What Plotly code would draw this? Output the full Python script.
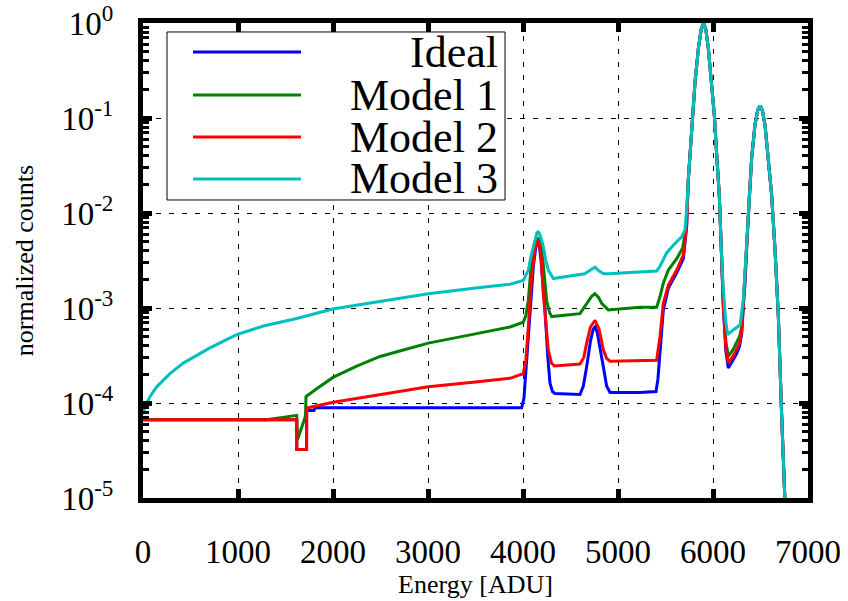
import plotly.graph_objects as go

series_names = ["Ideal", "Model 1", "Model 2", "Model 3"]
series_colors = ["#0000ff", "#008000", "#ff0000", "#00bfbf"]

# shared main peak (all curves coincide)
main_peak_x = [5740, 5758, 5786, 5811, 5846, 5875, 5900, 5925, 5951, 5986, 6014, 6039, 6066, 6090]
main_peak_y = [0.0224, 0.0407, 0.107, 0.240, 0.537, 0.851, 1.0, 0.851, 0.537, 0.240, 0.107, 0.0407, 0.0155, 0.00355]
# shared second peak
second_peak_x = [6360, 6382, 6407, 6442, 6470, 6495, 6520, 6547, 6582, 6617, 6653, 6688, 6723, 6751, 6760]
second_peak_y = [0.00562, 0.0155, 0.0380, 0.0851, 0.120, 0.135, 0.120, 0.0851, 0.0380, 0.0155, 0.00407, 8.13e-4, 7.24e-5, 1.07e-5, 7.9e-6]

ideal_x = [0, 1618, 1619, 1722, 1723, 1800, 1810, 3986, 4010, 4039, 4074, 4110, 4135, 4148, 4160, 4172, 4190, 4232,
           4260, 4284, 4310, 4337, 4600, 4635, 4670, 4710, 4740, 4758, 4780, 4810, 4846, 4880, 4916, 5231, 5400,
           5420, 5442, 5477, 5530, 5618, 5688, 5723]
ideal_y = [6.68e-5, 6.68e-5, 3.24e-5, 3.24e-5, 8.32e-5, 8.32e-5, 8.91e-5, 8.91e-5, 1.12e-4, 2.82e-4, 9.55e-4,
           2.82e-3, 4.37e-3, 4.70e-3, 4.79e-3, 4.50e-3, 3.16e-3, 9.55e-4, 3.16e-4, 1.62e-4, 1.32e-4, 1.26e-4,
           1.23e-4, 1.51e-4, 2.40e-4, 4.47e-4, 6.03e-4, 6.31e-4, 5.62e-4, 3.98e-4, 2.40e-4, 1.51e-4, 1.29e-4,
           1.29e-4, 1.32e-4, 1.78e-4, 3.63e-4, 9.55e-4, 1.62e-3, 2.34e-3, 3.31e-3, 7.24e-3]
ideal_valley_x = [6109, 6135, 6161, 6210, 6249, 6280, 6302, 6320, 6337]
ideal_valley_y = [1.0e-3, 3.55e-4, 2.34e-4, 2.82e-4, 3.31e-4, 3.98e-4, 5.37e-4, 1.05e-3, 1.82e-3]

model1_x = [0, 1300, 1618, 1625, 1710, 1716, 1828, 2000, 2250, 2495, 2750, 3003, 3512, 3863, 4003, 4030, 4056,
            4091, 4125, 4145, 4158, 4172, 4190, 4214, 4249, 4280, 4302, 4600, 4688, 4720, 4758, 4795, 4828, 4898,
            5231, 5407, 5442, 5477, 5530, 5618, 5681, 5716]
model1_y = [6.68e-5, 6.68e-5, 7.41e-5, 4.07e-5, 7.24e-5, 1.17e-4, 1.41e-4, 1.86e-4, 2.45e-4, 3.09e-4, 3.63e-4,
            4.27e-4, 5.37e-4, 6.31e-4, 7.08e-4, 8.32e-4, 1.20e-3, 3.24e-3, 5.01e-3, 5.30e-3, 5.37e-3, 5.20e-3,
            4.68e-3, 2.82e-3, 1.20e-3, 8.91e-4, 8.13e-4, 8.71e-4, 1.17e-3, 1.32e-3, 1.41e-3, 1.29e-3, 1.12e-3,
            9.55e-4, 1.02e-3, 1.02e-3, 1.32e-3, 1.82e-3, 2.51e-3, 3.31e-3, 4.27e-3, 7.24e-3]
model1_valley_x = [6109, 6135, 6161, 6210, 6249, 6280, 6302, 6320, 6340]
model1_valley_y = [1.12e-3, 4.47e-4, 3.09e-4, 3.63e-4, 4.27e-4, 5.01e-4, 6.31e-4, 1.12e-3, 2.51e-3]

model2_x = [0, 1618, 1619, 1722, 1723, 1740, 2003, 2500, 3003, 3500, 3863, 4003, 4030, 4056, 4091, 4125, 4145,
            4158, 4172, 4190, 4214, 4240, 4266, 4300, 4330, 4600, 4640, 4670, 4710, 4758, 4800, 4846, 4880, 4916,
            5231, 5407, 5442, 5477, 5530, 5618, 5688, 5723]
model2_y = [6.68e-5, 6.68e-5, 3.24e-5, 3.24e-5, 8.71e-5, 8.91e-5, 1.02e-4, 1.23e-4, 1.48e-4, 1.66e-4, 1.82e-4,
            2.04e-4, 2.82e-4, 6.31e-4, 2.14e-3, 4.17e-3, 4.90e-3, 5.01e-3, 4.60e-3, 3.55e-3, 1.41e-3, 7.08e-4,
            3.63e-4, 2.63e-4, 2.45e-4, 2.57e-4, 3.02e-4, 4.27e-4, 6.31e-4, 7.41e-4, 6.03e-4, 3.63e-4, 2.95e-4,
            2.75e-4, 2.82e-4, 2.82e-4, 5.01e-4, 1.12e-3, 1.74e-3, 2.51e-3, 3.63e-3, 7.76e-3]
model2_valley_x = [6109, 6135, 6161, 6210, 6249, 6280, 6302, 6320, 6340]
model2_valley_y = [1.05e-3, 3.98e-4, 2.63e-4, 3.09e-4, 3.63e-4, 4.27e-4, 5.62e-4, 1.07e-3, 2.40e-3]

model3_x = [0, 21, 74, 144, 284, 424, 705, 986, 1267, 1618, 1997, 2500, 3003, 3500, 3863, 4003, 4056, 4085, 4109,
            4135, 4147, 4158, 4170, 4185, 4214, 4240, 4266, 4319, 4600, 4650, 4710, 4758, 4800, 4850, 4898, 5231,
            5407, 5442, 5512, 5582, 5670, 5705, 5723]
model3_y = [7.59e-5, 9.12e-5, 1.17e-4, 1.48e-4, 2.04e-4, 2.63e-4, 3.80e-4, 5.25e-4, 6.46e-4, 7.76e-4, 9.77e-4,
            1.17e-3, 1.41e-3, 1.62e-3, 1.78e-3, 1.95e-3, 2.51e-3, 3.55e-3, 4.47e-3, 5.75e-3, 6.17e-3, 6.31e-3,
            6.17e-3, 5.62e-3, 4.47e-3, 3.16e-3, 2.51e-3, 2.04e-3, 2.24e-3, 2.29e-3, 2.51e-3, 2.69e-3, 2.45e-3,
            2.29e-3, 2.29e-3, 2.40e-3, 2.45e-3, 2.75e-3, 3.80e-3, 4.57e-3, 5.62e-3, 6.61e-3, 1.07e-2]
model3_valley_x = [6109, 6135, 6155, 6214, 6284, 6319, 6340]
model3_valley_y = [1.55e-3, 7.08e-4, 5.25e-4, 5.89e-4, 6.61e-4, 1.20e-3, 2.82e-3]

x_ticks = [0, 1000, 2000, 3000, 4000, 5000, 6000, 7000]
y_ticks = [1e-5, 1e-4, 1e-3, 1e-2, 1e-1, 1e0]
y_tick_text = ["10<sup>-5</sup>", "10<sup>-4</sup>", "10<sup>-3</sup>", "10<sup>-2</sup>", "10<sup>-1</sup>", "10<sup>0</sup>"]
y_minor = [m * 10.0 ** e for e in range(-5, 0) for m in range(2, 10)]

series = [
    (ideal_x, ideal_y, ideal_valley_x, ideal_valley_y),
    (model1_x, model1_y, model1_valley_x, model1_valley_y),
    (model2_x, model2_y, model2_valley_x, model2_valley_y),
    (model3_x, model3_y, model3_valley_x, model3_valley_y),
]

FONT = "Liberation Serif"
fig = go.Figure()
for name, color, (sx, sy, vx, vy) in zip(series_names, series_colors, series):
    fig.add_trace(go.Scatter(
        x=sx + main_peak_x + vx + second_peak_x,
        y=sy + main_peak_y + vy + second_peak_y,
        mode="lines", name=name, showlegend=False,
        line=dict(color=color, width=3),
    ))

axis_common = dict(
    showline=True, linecolor="black", linewidth=5, mirror="allticks",
    ticks="inside", tickcolor="black", tickwidth=5, ticklen=9,
    showgrid=True, gridcolor="black", gridwidth=1.3, griddash="5px,8px",
    zeroline=False, tickfont=dict(family=FONT, size=33, color="black"),
    ticklabeloverflow="allow", automargin=False,
)

fig.update_xaxes(
    range=[0, 7000], tickvals=x_ticks, ticklabelstandoff=20,
    title=dict(text="Energy [ADU]", font=dict(family=FONT, size=26, color="black"), standoff=2),
    **axis_common,
)
fig.update_yaxes(
    type="log", range=[-5, 0], tickvals=y_ticks, ticktext=y_tick_text, ticklabelstandoff=18,
    minor=dict(tickvals=y_minor, ticks="inside", ticklen=6, tickwidth=2.5, tickcolor="black", showgrid=False),
    title=dict(text="normalized counts", font=dict(family=FONT, size=26, color="black"), standoff=22),
    **axis_common,
)

# legend box (manual, gnuplot style: sample line left, text right-aligned)
shapes = [dict(type="rect", xref="paper", yref="paper", x0=0.0361, x1=0.5444, y0=0.6274, y1=0.9811,
               line=dict(color="black", width=1), fillcolor="white", layer="above")]
annotations = []
legend_rows_y = [0.9389, 0.8484, 0.7600, 0.6716]
for name, color, ly in zip(series_names, series_colors, legend_rows_y):
    shapes.append(dict(type="line", xref="paper", yref="paper", x0=0.0752, x1=0.2376, y0=ly, y1=ly,
                       line=dict(color=color, width=3), layer="above"))
    annotations.append(dict(xref="paper", yref="paper", x=0.5368, y=ly, xanchor="right", yanchor="middle",
                            text=name, showarrow=False, font=dict(family=FONT, size=44, color="black")))

fig.update_layout(
    width=848, height=601,
    margin=dict(l=143, r=40, t=23, b=103, autoexpand=False),
    paper_bgcolor="white", plot_bgcolor="white",
    shapes=shapes, annotations=annotations,
    showlegend=False,
)

fig.write_html("out.html")
